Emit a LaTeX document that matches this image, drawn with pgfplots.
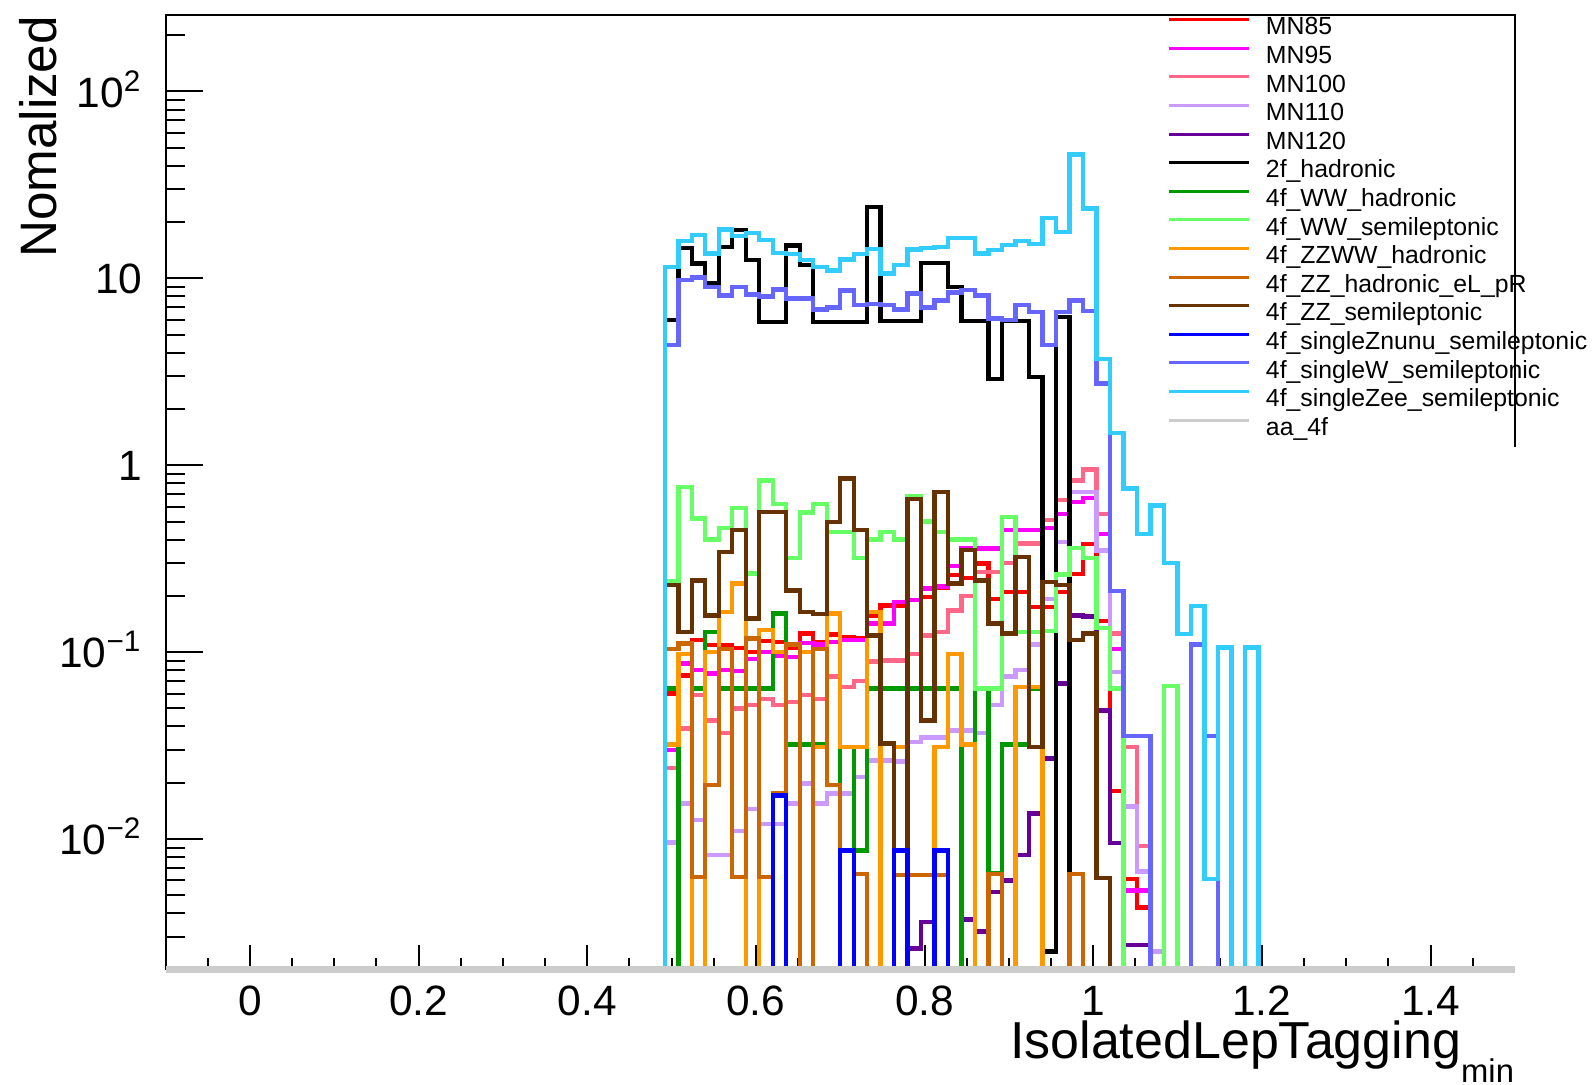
\documentclass[border=0pt]{standalone}
\usepackage{fontspec}
\setmainfont{Liberation Sans}
\usepackage{pgfplots}
\pgfplotsset{compat=1.18}
\usepackage{pgfplotstable}
\definecolor{cA}{HTML}{FF0000}
\definecolor{cB}{HTML}{FF00FF}
\definecolor{cC}{HTML}{FF6688}
\definecolor{cD}{HTML}{CC99FF}
\definecolor{cE}{HTML}{660099}
\definecolor{cF}{HTML}{000000}
\definecolor{cG}{HTML}{009900}
\definecolor{cH}{HTML}{66FF66}
\definecolor{cI}{HTML}{FF9900}
\definecolor{cJ}{HTML}{CC6600}
\definecolor{cK}{HTML}{663300}
\definecolor{cL}{HTML}{0000FF}
\definecolor{cM}{HTML}{6666FF}
\definecolor{cN}{HTML}{33CCFF}
\definecolor{cO}{HTML}{CCCCCC}
% x = left bin edge; columns: MN85 MN95 MN100 MN110 MN120 2f WWh WWsl ZZWW ZZh ZZsl Znunu singleW singleZee
\pgfplotstableread{
x a b c d e f g h i j k l m n
0.476 1e-5 1e-5 1e-5 1e-5 1e-5 1e-5 1e-5 1e-5 1e-5 1e-5 1e-5 1e-5 1e-5 1e-5
0.492 0.06 0.03 0.024 0.0096 1e-5 5.97 0.064 0.24 0.032 0.104 0.228 1e-5 4.4 11.5
0.508 0.075 0.087 0.039 0.0155 1e-5 14.5 1e-5 0.765 0.098 0.111 0.128 1e-5 9.8 15.8
0.524 0.116 0.08 0.059 0.0126 1e-5 12.0 0.064 0.52 1e-5 0.00625 0.242 1e-5 10.1 17.1
0.540 0.109 0.077 0.043 0.0082 1e-5 9.4 0.128 0.40 0.1 0.0194 0.157 1e-5 9.0 13.6
0.556 0.109 0.08 0.037 0.0082 1e-5 14.7 0.064 0.46 0.164 0.104 0.343 1e-5 8.1 18.3
0.572 0.105 0.079 0.05 0.011 1e-5 18.1 0.064 0.59 0.233 0.00625 0.449 1e-5 9.0 16.8
0.588 0.10 0.092 0.052 0.0145 1e-5 12.5 0.064 0.263 1e-5 0.118 0.151 1e-5 8.2 17.5
0.604 0.115 0.1 0.056 0.012 1e-5 5.85 0.064 0.83 0.131 0.00625 0.562 1e-5 8.0 16.0
0.620 0.113 0.095 0.052 0.012 1e-5 5.85 0.161 0.62 0.1 0.0175 0.562 0.0171 8.7 13.7
0.636 0.105 0.094 0.054 0.0155 1e-5 15.0 0.032 0.32 1e-5 0.11 0.214 1e-5 7.8 13.5
0.652 0.126 0.112 0.059 0.0198 1e-5 11.8 0.032 0.56 0.1 1e-5 0.164 1e-5 7.8 12.5
0.668 0.113 0.11 0.056 0.0155 1e-5 5.85 0.032 0.62 0.031 0.104 0.16 1e-5 6.8 11.5
0.684 0.124 0.113 0.074 0.0175 1e-5 5.85 0.0195 0.44 0.161 0.0194 0.497 1e-5 7.0 11.0
0.700 0.12 0.116 0.065 0.0175 1e-5 5.85 0.031 0.44 0.031 1e-5 0.849 0.0087 8.6 12.6
0.716 0.118 0.116 0.07 0.0214 1e-5 5.85 0.0087 0.32 0.031 0.0065 0.449 1e-5 7.2 13.5
0.732 0.157 0.142 0.089 0.0263 1e-5 24.1 0.064 0.40 0.164 1e-5 0.123 1e-5 7.3 14.4
0.748 0.178 0.142 0.09 0.0263 1e-5 5.9 0.064 0.44 1e-5 1e-5 0.0324 1e-5 7.2 10.6
0.764 0.178 0.185 0.09 0.026 1e-5 5.9 0.064 0.40 0.031 0.0064 0.0087 0.0087 6.8 11.8
0.780 0.19 0.19 0.098 0.033 0.0026 5.9 0.064 0.68 1e-5 0.0064 0.66 1e-5 8.3 14.3
0.796 0.197 0.219 0.123 0.035 0.0036 12.1 0.064 0.50 1e-5 0.0064 0.043 1e-5 7.0 14.5
0.812 0.22 0.225 0.128 0.035 1e-5 12.1 0.064 0.44 0.031 0.0064 0.72 0.0087 7.6 14.7
0.828 0.258 0.288 0.167 0.038 1e-5 9.0 0.064 0.40 0.098 1e-5 0.233 1e-5 8.4 16.4
0.844 0.25 0.358 0.2 0.038 0.0037 5.9 1e-5 0.40 0.032 1e-5 0.351 1e-5 8.65 16.4
0.860 0.298 0.358 0.268 0.037 0.0032 5.9 0.064 0.064 1e-5 1e-5 0.242 1e-5 8.1 13.6
0.876 0.193 0.358 0.268 0.052 0.0052 2.9 0.0066 0.064 1e-5 0.0065 0.142 1e-5 6.1 14.2
0.892 0.21 0.449 0.3 0.074 0.006 5.9 0.032 0.53 1e-5 1e-5 0.126 1e-5 6.0 15.1
0.908 0.21 0.45 0.381 0.08 0.0082 5.9 0.032 0.128 0.065 1e-5 0.323 1e-5 7.2 15.9
0.924 0.174 0.45 0.381 0.11 0.0137 2.97 0.064 0.128 0.065 1e-5 0.031 1e-5 6.6 15.3
0.940 0.174 0.46 0.508 0.193 0.027 0.0025 1e-5 0.13 1e-5 1e-5 0.237 1e-5 4.4 21.0
0.956 0.21 0.55 0.65 0.389 0.068 6.2 1e-5 0.26 1e-5 1e-5 0.228 1e-5 6.6 17.7
0.972 0.262 0.637 0.83 0.72 0.157 0.0065 1e-5 0.36 1e-5 0.0065 0.116 1e-5 7.6 46
0.988 0.38 0.67 0.95 0.72 0.155 1e-5 1e-5 0.32 1e-5 1e-5 0.126 1e-5 6.7 23.7
1.004 0.147 0.43 0.55 0.35 0.0486 1e-5 1e-5 0.135 1e-5 1e-5 0.0062 1e-5 2.74 3.7
1.020 0.018 0.104 0.126 0.078 0.0095 1e-5 1e-5 0.064 1e-5 1e-5 1e-5 1e-5 0.213 1.49
1.036 0.0061 0.0053 0.031 0.0149 0.0027 1e-5 1e-5 1e-5 1e-5 1e-5 1e-5 1e-5 0.0355 0.75
1.052 0.0043 0.0053 0.0092 0.0067 0.0027 1e-5 1e-5 1e-5 1e-5 1e-5 1e-5 1e-5 0.0355 0.43
1.068 1e-5 1e-5 1e-5 0.0025 1e-5 1e-5 1e-5 1e-5 1e-5 1e-5 1e-5 1e-5 1e-5 0.61
1.084 1e-5 1e-5 1e-5 1e-5 1e-5 1e-5 1e-5 0.066 1e-5 1e-5 1e-5 1e-5 1e-5 0.30
1.100 1e-5 1e-5 1e-5 1e-5 1e-5 1e-5 1e-5 1e-5 1e-5 1e-5 1e-5 1e-5 1e-5 0.125
1.116 1e-5 1e-5 1e-5 1e-5 1e-5 1e-5 1e-5 1e-5 1e-5 1e-5 1e-5 1e-5 0.11 0.177
1.132 1e-5 1e-5 1e-5 1e-5 1e-5 1e-5 1e-5 1e-5 1e-5 1e-5 1e-5 1e-5 0.0355 0.0061
1.148 1e-5 1e-5 1e-5 1e-5 1e-5 1e-5 1e-5 1e-5 1e-5 1e-5 1e-5 1e-5 1e-5 0.106
1.164 1e-5 1e-5 1e-5 1e-5 1e-5 1e-5 1e-5 1e-5 1e-5 1e-5 1e-5 1e-5 1e-5 1e-5
1.180 1e-5 1e-5 1e-5 1e-5 1e-5 1e-5 1e-5 1e-5 1e-5 1e-5 1e-5 1e-5 1e-5 0.106
1.196 1e-5 1e-5 1e-5 1e-5 1e-5 1e-5 1e-5 1e-5 1e-5 1e-5 1e-5 1e-5 1e-5 1e-5
}\histdata
\begin{document}
\begin{tikzpicture}
\begin{axis}[
  at={(41.4pt,28.6pt)}, anchor=south west,
  scale only axis, width=337.3pt, height=238.6pt,
  xmin=-0.1, xmax=1.5, ymode=log, ymin=0.002, ymax=256,
  axis line style={draw=none},
  xtick={0,0.2,0.4,0.6,0.8,1,1.2,1.4},
  xticklabels={0,0.2,0.4,0.6,0.8,1,1.2,1.4},
  minor xtick={-0.05,0.05,0.1,0.15,0.25,0.3,0.35,0.45,0.5,0.55,0.65,0.7,0.75,0.85,0.9,0.95,1.05,1.1,1.15,1.25,1.3,1.35,1.45},
  ytick={0.01,0.1,1,10,100},
  yticklabels={10\textsuperscript{−2},10\textsuperscript{−1},1,10,10\textsuperscript{2}},
  minor ytick={0.002,0.003,0.004,0.005,0.006,0.007,0.008,0.009,0.02,0.03,0.04,0.05,0.06,0.07,0.08,0.09,0.2,0.3,0.4,0.5,0.6,0.7,0.8,0.9,2,3,4,5,6,7,8,9,20,30,40,50,60,70,80,90,200},
  xtick pos=bottom, ytick pos=left, tick align=inside,
  major tick length=9.4pt, minor tick length=4.8pt,
  xtick style={/pgfplots/major tick length=6.25pt,/pgfplots/minor tick length=3pt},
  tick style={black, line width=0.5pt},
  ticklabel style={font=\fontsize{10.6}{12}\selectfont},
  xticklabel style={inner sep=0pt, anchor=north, yshift=-3.9pt},
  yticklabel style={inner sep=0pt, anchor=base east, xshift=-5.6pt, yshift=-3.9pt},
  legend cell align=left,
  legend style={at={(rel axis cs:0.7425,1)}, anchor=north west, yshift=-0.3pt,
    draw=none, fill=none, inner sep=0pt, outer sep=0pt, row sep=1.15pt,
    nodes={inner xsep=0pt, inner ysep=0pt, text height=4.6pt, text depth=1.4pt,
      font=\fontsize{6.2}{7}\selectfont},
    /tikz/every odd column/.append style={column sep=3.9pt}},
  legend image code/.code={\draw[#1, line width=0.75pt] (0pt,2.2pt) -- (20pt,2.2pt);},
  every axis plot/.append style={const plot mark left, line width=1.1pt, line join=miter},
  after end axis/.code={
    \draw[black, line width=0.5pt] (rel axis cs:0,0) -- (rel axis cs:0,1) -- (rel axis cs:1,1) -- (rel axis cs:1,0.5475);
    \draw[cO, line width=1.6pt] (rel axis cs:0,0) -- (rel axis cs:1,0);
    \path (rel axis cs:0,1) ++(-26.9pt,0pt) node[rotate=90, anchor=south east, inner sep=0pt, font=\fontsize{12.8}{14}\selectfont] {Nomalized};
    \path (rel axis cs:1,0) ++(0pt,-12.7pt) node[anchor=north east, inner sep=0pt, font=\fontsize{13}{15}\selectfont] {IsolatedLepTagging\raisebox{-5.8pt}{\fontsize{8.2}{9}\selectfont min}};
  },
]
\addplot[cA] table[x=x,y=a] {\histdata}; \addlegendentry{MN85}
\addplot[cB] table[x=x,y=b] {\histdata}; \addlegendentry{MN95}
\addplot[cC] table[x=x,y=c] {\histdata}; \addlegendentry{MN100}
\addplot[cD] table[x=x,y=d] {\histdata}; \addlegendentry{MN110}
\addplot[cE] table[x=x,y=e] {\histdata}; \addlegendentry{MN120}
\addplot[cF] table[x=x,y=f] {\histdata}; \addlegendentry{2f\_hadronic}
\addplot[cG] table[x=x,y=g] {\histdata}; \addlegendentry{4f\_WW\_hadronic}
\addplot[cH] table[x=x,y=h] {\histdata}; \addlegendentry{4f\_WW\_semileptonic}
\addplot[cI] table[x=x,y=i] {\histdata}; \addlegendentry{4f\_ZZWW\_hadronic}
\addplot[cJ] table[x=x,y=j] {\histdata}; \addlegendentry{4f\_ZZ\_hadronic\_eL\_pR}
\addplot[cK] table[x=x,y=k] {\histdata}; \addlegendentry{4f\_ZZ\_semileptonic}
\addplot[cL] table[x=x,y=l] {\histdata}; \addlegendentry{4f\_singleZnunu\_semileptonic}
\addplot[cM] table[x=x,y=m] {\histdata}; \addlegendentry{4f\_singleW\_semileptonic}
\addplot[cN] table[x=x,y=n] {\histdata}; \addlegendentry{4f\_singleZee\_semileptonic}
\addplot[cO, line width=1.6pt] coordinates {(-0.1,0.002) (1.5,0.002)}; \addlegendentry{aa\_4f}
\end{axis}
\pgfresetboundingbox
\path[use as bounding box] (0pt,0pt) rectangle (398pt,271pt);
\end{tikzpicture}
\end{document}
